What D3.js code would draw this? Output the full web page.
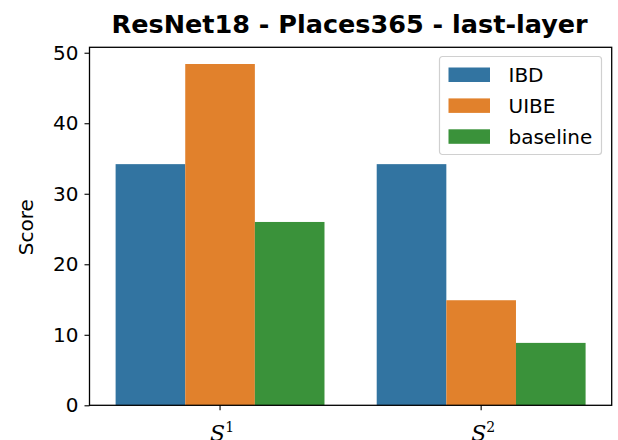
<!DOCTYPE html>
<html>
<head>
<meta charset="utf-8">
<script src="https://cdn.jsdelivr.net/npm/d3@7"></script>
<style>
  body { margin: 0; background: #fff; }
  svg { font-family: "DejaVu Sans", sans-serif; }
</style>
</head>
<body>
<div id="chart"></div>
<script>
const categories = ["1", "2"];
const seriesNames = ["IBD", "UIBE", "baseline"];
const ibdValues = [34.2, 34.2];
const uibeValues = [48.4, 14.9];
const baselineValues = [26.0, 8.85];
const yTicks = [0, 10, 20, 30, 40, 50];
const colors = ["#3274a1", "#e1812c", "#3a923a"];

const width = 618, height = 440;
const margin = { top: 47.3, right: 6.3, bottom: 34.7, left: 89.5 };
const innerWidth = width - margin.left - margin.right;
const innerHeight = height - margin.top - margin.bottom;

const data = categories.map((c, i) => ({
  cat: c,
  values: [ibdValues[i], uibeValues[i], baselineValues[i]]
}));

const svg = d3.select("#chart")
  .append("svg")
    .attr("width", width)
    .attr("height", height);

const innerChart = svg.append("g")
  .attr("transform", `translate(${margin.left}, ${margin.top})`);

// scales
const xScale = d3.scaleBand()
  .domain(categories)
  .range([0, innerWidth])
  .paddingInner(0.2)
  .paddingOuter(0.1);

const xSub = d3.scaleBand()
  .domain(seriesNames)
  .range([0, xScale.bandwidth()]);

const yScale = d3.scaleLinear()
  .domain([0, 50.77])
  .range([innerHeight, 0]);

// bars
innerChart.selectAll(".group")
  .data(data)
  .join("g")
    .attr("class", "group")
    .attr("transform", d => `translate(${xScale(d.cat)}, 0)`)
  .selectAll("rect")
  .data(d => d.values.map((v, j) => ({ key: seriesNames[j], value: v, j })))
  .join("rect")
    .attr("x", d => xSub(d.key))
    .attr("y", d => yScale(d.value))
    .attr("width", xSub.bandwidth())
    .attr("height", d => innerHeight - yScale(d.value))
    .attr("fill", d => colors[d.j]);

// axes
const yAxis = d3.axisLeft(yScale).tickValues(yTicks).tickSize(5).tickPadding(6);
const yG = innerChart.append("g").call(yAxis);
yG.select(".domain").remove();
yG.selectAll("line").attr("stroke", "#000").attr("stroke-width", 1.1);
yG.selectAll("text").attr("font-size", 20).attr("fill", "#000")
  .attr("font-family", "DejaVu Sans");

const xAxis = d3.axisBottom(xScale).tickSize(5).tickFormat("");
const xG = innerChart.append("g")
  .attr("transform", `translate(0, ${innerHeight})`)
  .call(xAxis);
xG.select(".domain").remove();
xG.selectAll("line").attr("stroke", "#000").attr("stroke-width", 1.1);

// x tick labels: S with superscript
categories.forEach(c => {
  const t = innerChart.append("text")
    .attr("x", xScale(c) + xScale.bandwidth() / 2 + 2)
    .attr("y", innerHeight + 36)
    .attr("text-anchor", "middle")
    .attr("font-size", 22)
    .attr("fill", "#000");
  t.append("tspan")
    .attr("font-family", "DejaVu Serif")
    .attr("font-style", "italic")
    .text("S");
  t.append("tspan")
    .attr("font-size", 14)
    .attr("dy", -9)
    .attr("font-family", "DejaVu Serif")
    .text(c);
});

// frame
innerChart.append("rect")
  .attr("width", innerWidth)
  .attr("height", innerHeight)
  .attr("fill", "none")
  .attr("stroke", "#000")
  .attr("stroke-width", 1.3);

// y label
svg.append("text")
  .attr("transform", `translate(33, ${margin.top + innerHeight / 2 + 1}) rotate(-90)`)
  .attr("text-anchor", "middle")
  .attr("font-size", 20)
  .attr("fill", "#000")
  .text("Score");

// title
svg.append("text")
  .attr("x", margin.left + innerWidth / 2 - 1)
  .attr("y", 33)
  .attr("text-anchor", "middle")
  .attr("font-size", 25.5)
  .attr("font-weight", "bold")
  .attr("fill", "#000")
  .text("ResNet18 - Places365 - last-layer");

// legend
const legend = svg.append("g").attr("transform", "translate(439.5, 56.5)");
legend.append("rect")
  .attr("width", 162)
  .attr("height", 98)
  .attr("rx", 3)
  .attr("fill", "#fff")
  .attr("fill-opacity", 0.8)
  .attr("stroke", "#d0d0d0")
  .attr("stroke-width", 1.2);

seriesNames.forEach((s, i) => {
  const row = legend.append("g").attr("transform", `translate(0, ${11 + i * 30.9})`);
  row.append("rect")
    .attr("x", 9).attr("y", 0)
    .attr("width", 41.5).attr("height", 14.5)
    .attr("fill", colors[i]);
  row.append("text")
    .attr("x", 69).attr("y", 14.5)
    .attr("font-size", 20)
    .attr("fill", "#000")
    .text(s);
});
</script>
</body>
</html>
